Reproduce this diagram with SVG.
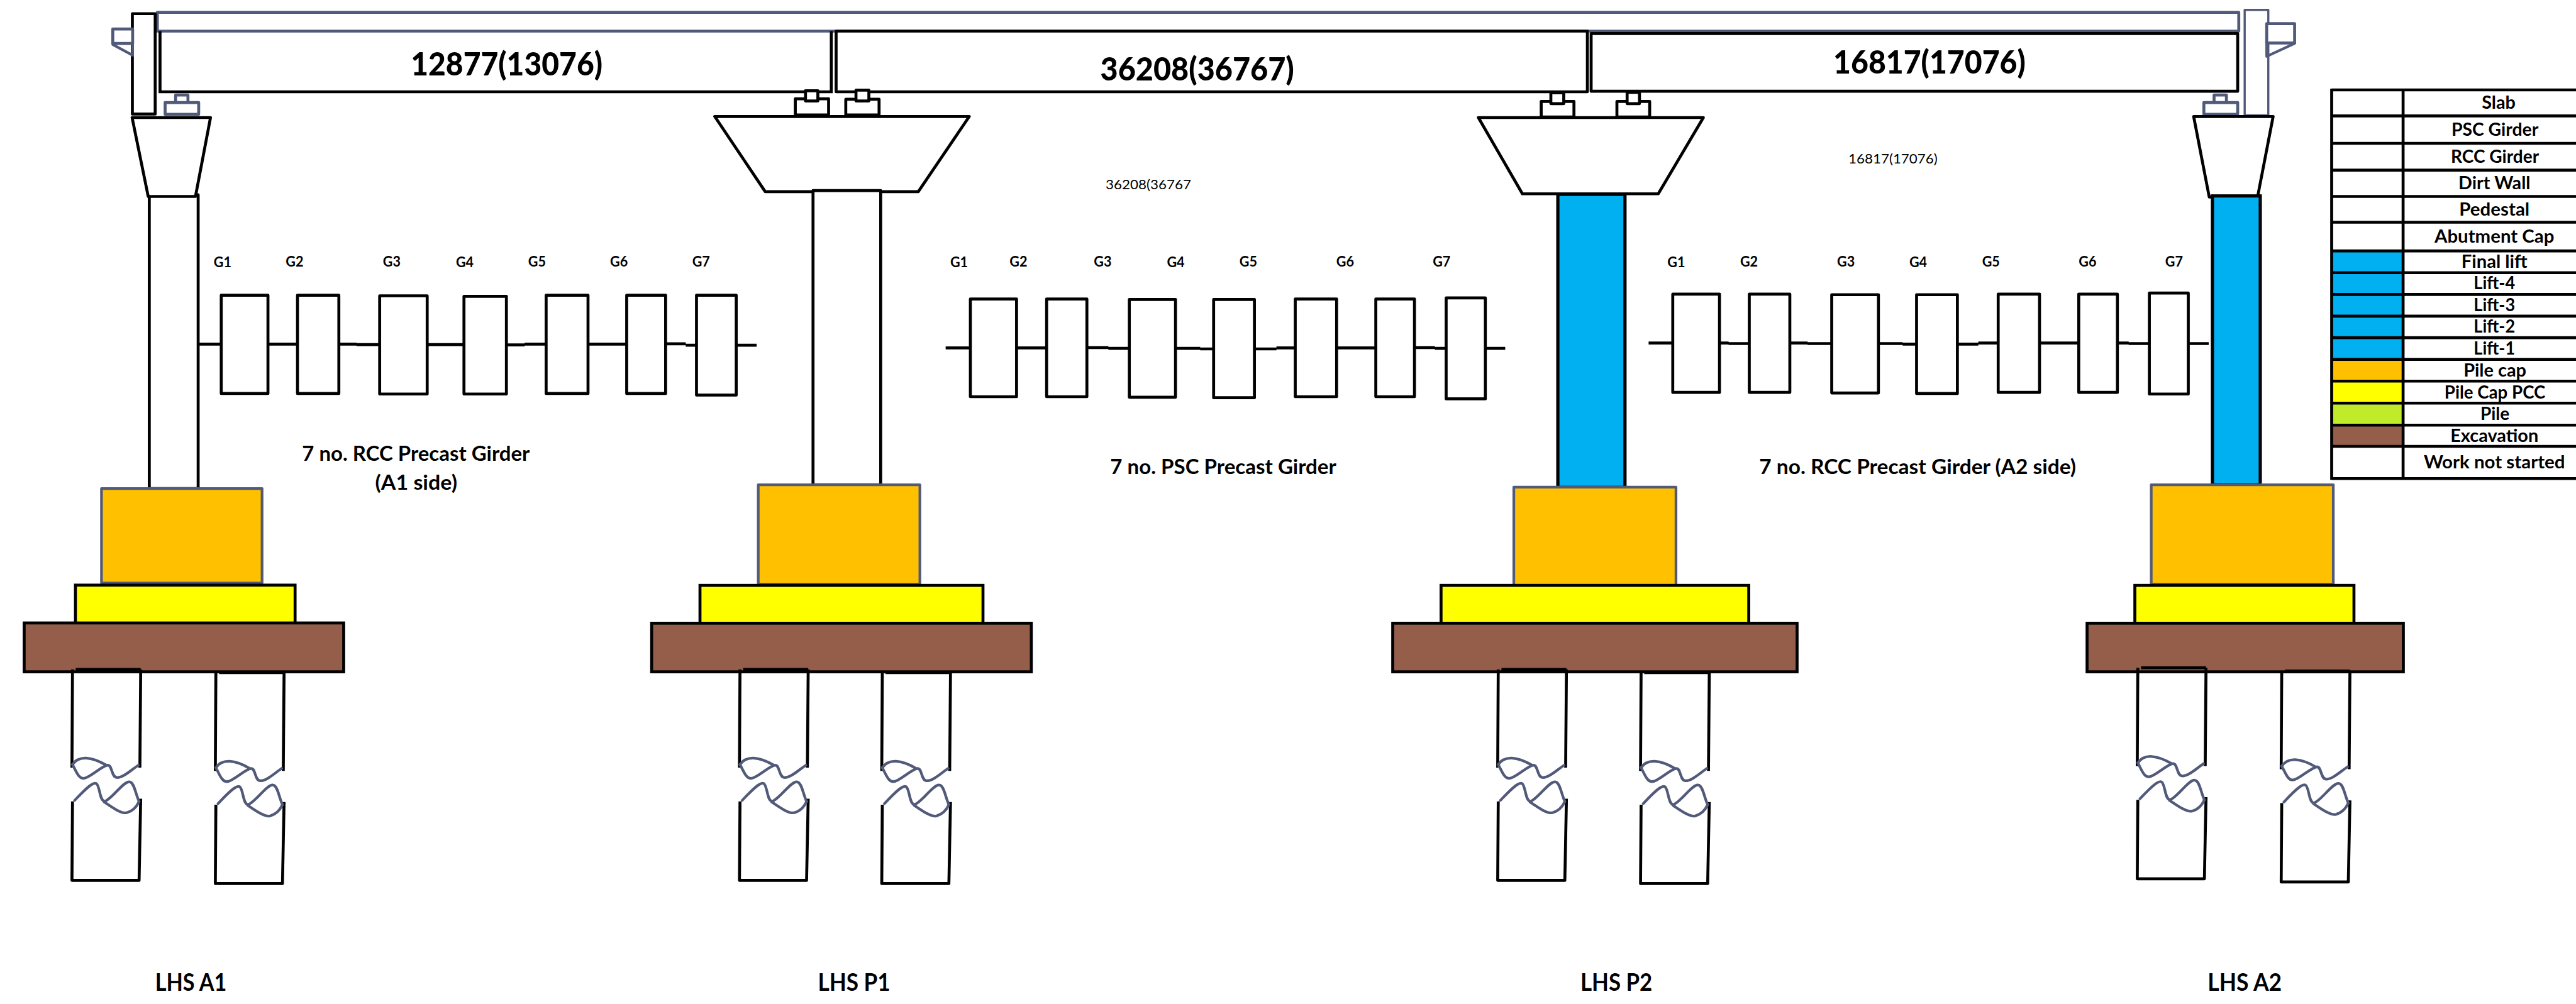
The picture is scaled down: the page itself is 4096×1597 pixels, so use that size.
<svg xmlns="http://www.w3.org/2000/svg" xmlns:xlink="http://www.w3.org/1999/xlink" width="4096" height="1597" viewBox="0 0 4096 1597">
<style>
.k{fill:#fff;stroke:#000;stroke-width:5.5;stroke-linejoin:round}
.kn{fill:none;stroke:#000;stroke-width:5.5}
.s{fill:#fff;stroke:#525a7a;stroke-width:5.5;stroke-linejoin:round}
.sn{fill:none;stroke:#525a7a;stroke-width:5;stroke-linecap:round;stroke-linejoin:round}
.blue{fill:#00b0f0;stroke:#000;stroke-width:6}
.cap{fill:#ffc000;stroke:#525a7a;stroke-width:5;stroke-linejoin:round}
.pcc{fill:#ff0;stroke:#000;stroke-width:5.5}
.exc{fill:#945e4a;stroke:#000;stroke-width:5.5}
text{font-family:Lato,"Liberation Sans",sans-serif;font-weight:700;fill:#000}
.t{font-size:60px;font-weight:900}
.sm{font-weight:400;font-size:25px}
.g{font-size:26px}
.n{font-size:37px}
.b{font-size:44px}
.l{font-size:34px;text-anchor:middle}
.tie{fill:none;stroke:#000;stroke-width:5.5}
</style>
<defs>
<g id="pile">
<path class="kn" d="M0,0 L-1,183 M127,0 L125.5,183 M6,0 L127,0"/>
<path class="kn" d="M0,246 L-1,393 L124,393 L127,241" stroke-linejoin="round"/>
<g transform="translate(0,177)">
<path class="sn" d="M0,0 C12,-17 35,-15 63,1.5"/>
<path class="sn" d="M0,0 C7.6,14.7 12,27 21,26 C32,25.5 54.5,2.5 65.5,1.5 C74.5,1 72,24.5 83,24.5 C95,24.5 110,9.8 122.6,1.5"/>
<path class="sn" d="M4,67 C18.8,51.6 36.6,32 44,35.4 C51.3,39 50,68.7 60,68.7 C72,66 95,31 106,32.4 C115,33 117,54 124,69"/>
<path class="sn" d="M59,70 C75,81 90.8,92 101,90 C110,87.5 119,80 124,69"/>
</g>
</g>
</defs>
<rect width="4096" height="1597" fill="#fff"/>
<g transform="scale(0.85387)">

<g id="slab"><rect class="s" x="293" y="23" width="3876" height="35"/></g>
<g id="span-1"><path class="kn" d="M298,58 V171 H1548 V58"/><text class="t" x="765" y="140" textLength="357" lengthAdjust="spacingAndGlyphs">12877(13076)</text></g>
<g id="span-2"><rect class="k" x="1557" y="58" width="1399" height="113"/><text class="t" x="2049" y="150" textLength="361" lengthAdjust="spacingAndGlyphs">36208(36767)</text></g>
<g id="span-3"><rect class="k" x="2963" y="62.5" width="1204" height="107.5"/><text class="t" x="3414" y="137" textLength="358" lengthAdjust="spacingAndGlyphs">16817(17076)</text></g>

<g id="abutment-A1">
<rect class="k" x="246.5" y="25.5" width="42.500" height="187"/>
<rect class="s" x="210" y="54" width="37" height="27"/>
<path class="sn" d="M210,83 L247,103 V80"/>
<rect class="s" x="327" y="177" width="23" height="16"/>
<rect class="s" x="307.5" y="191" width="62.500" height="22"/>
<rect class="k" x="278" y="363" width="91" height="547"/>
<path class="k" d="M246,219 H392 L364,366 H276 Z"/>
<rect class="cap" x="189" y="910" width="299" height="176"/>
<rect class="pcc" x="140.500" y="1090" width="409" height="71"/>
<rect class="exc" x="45" y="1160.500" width="595" height="91"/>
<use href="#pile" x="135" y="1247"/>
<use href="#pile" x="402" y="1253"/>
<text class="b" x="289" y="1846" textLength="133" lengthAdjust="spacingAndGlyphs">LHS A1</text>
</g>

<g id="pier-P1">
<path class="k" d="M1331,217 H1805 L1710,357 H1425 Z"/>
<rect class="k" x="1514" y="355" width="126" height="548"/>
<rect class="k" x="1481" y="184" width="62" height="30"/>
<rect class="k" x="1500" y="169" width="23" height="19"/>
<rect class="k" x="1575" y="185" width="62" height="29"/>
<rect class="k" x="1594" y="168" width="24" height="20"/>
<rect class="cap" x="1412" y="903" width="301" height="185"/>
<rect class="pcc" x="1303.500" y="1090.500" width="527" height="71"/>
<rect class="exc" x="1213.500" y="1161" width="707" height="90.500"/>
<use href="#pile" x="1378" y="1247"/>
<use href="#pile" x="1643" y="1253"/>
<text class="b" x="1523" y="1846" textLength="135" lengthAdjust="spacingAndGlyphs">LHS P1</text>
</g>

<g id="pier-P2">
<path class="k" d="M2753,219 H3172 L3088,361 H2835 Z"/>
<rect class="blue" x="2901" y="362" width="125" height="546"/>
<rect class="k" x="2870" y="189" width="61" height="29"/>
<rect class="k" x="2888" y="173" width="24" height="20"/>
<rect class="k" x="3011" y="189" width="61" height="29"/>
<rect class="k" x="3030" y="172" width="23" height="21"/>
<rect class="cap" x="2819" y="907.500" width="302" height="183.500"/>
<rect class="pcc" x="2683.500" y="1090.500" width="573" height="71"/>
<rect class="exc" x="2593.500" y="1161" width="753" height="90.500"/>
<use href="#pile" x="2790" y="1247"/>
<use href="#pile" x="3056" y="1253"/>
<text class="b" x="2943" y="1846" textLength="134" lengthAdjust="spacingAndGlyphs">LHS P2</text>
</g>

<g id="abutment-A2">
<path class="k" style="stroke:#525a7a;stroke-width:4" d="M4180,215 V18.500 H4224 V215 Z"/>
<rect class="s" x="4221" y="44" width="52" height="36"/>
<path class="sn" d="M4273,81 L4221,105 V80"/>
<rect class="s" x="4123" y="177" width="23" height="16"/>
<rect class="s" x="4104" y="191" width="63" height="22"/>
<path class="k" d="M4085,217 H4233 L4204,367 H4114 Z"/>
<rect class="blue" x="4120" y="365" width="89" height="538"/>
<rect class="cap" x="4006" y="903" width="339" height="185"/>
<rect class="pcc" x="3975.500" y="1090.500" width="408" height="71"/>
<rect class="exc" x="3886.500" y="1161" width="589" height="90.500"/>
<use href="#pile" x="3981" y="1244"/>
<use href="#pile" x="4249" y="1250"/>
<text class="b" x="4111" y="1846" textLength="138" lengthAdjust="spacingAndGlyphs">LHS A2</text>
</g>

<g id="connectors">
<path class="tie" d="M367,641 H412 M499,641 H554 M631,641 H664 M664,642 H707 M795,642 H864 M943,642.500 H977 M977,641 H1017 M1095,641 H1167 M1239,640.500 H1277 M1277,643 H1297 M1371,643 H1409"/>
<path class="tie" d="M1761,648 H1807 M1893,648 H1949 M2024,647.500 H2064 M2064,649 H2103 M2189,649 H2235 M2235,650 H2260 M2336,650 H2377 M2377,648 H2412 M2489,648 H2562 M2634,647.500 H2672 M2672,649 H2693 M2766,649 H2803"/>
<path class="tie" d="M3070,639 H3115 M3202,639 H3219 M3219,640 H3257 M3333,639 H3366 M3366,640 H3411 M3498,640 H3543 M3543,641 H3569 M3645,641 H3684 M3684,639 H3721 M3798,639 H3871 M3943,639 H3964 M3964,640 H4002 M4075,640 H4113"/>
</g>

<g id="girders-A1-side">
<rect class="k" x="412" y="550" width="87" height="183"/>
<rect class="k" x="554" y="550" width="77" height="183"/>
<rect class="k" x="707" y="551" width="88.500" height="183"/>
<rect class="k" x="864" y="552" width="79" height="182"/>
<rect class="k" x="1017" y="550" width="78" height="183"/>
<rect class="k" x="1167" y="550" width="72.500" height="183"/>
<rect class="k" x="1297" y="550" width="74" height="186"/>
<text class="g" x="398" y="498" textLength="33" lengthAdjust="spacingAndGlyphs">G1</text>
<text class="g" x="532" y="496" textLength="33" lengthAdjust="spacingAndGlyphs">G2</text>
<text class="g" x="713" y="496" textLength="33" lengthAdjust="spacingAndGlyphs">G3</text>
<text class="g" x="849" y="498" textLength="33" lengthAdjust="spacingAndGlyphs">G4</text>
<text class="g" x="983.500" y="496" textLength="33" lengthAdjust="spacingAndGlyphs">G5</text>
<text class="g" x="1136" y="496" textLength="33" lengthAdjust="spacingAndGlyphs">G6</text>
<text class="g" x="1289" y="496" textLength="33" lengthAdjust="spacingAndGlyphs">G7</text>
<text class="n" x="562.500" y="858" textLength="424" lengthAdjust="spacingAndGlyphs">7 no. RCC Precast Girder</text>
<text class="n" x="698.500" y="912" textLength="153" lengthAdjust="spacingAndGlyphs">(A1 side)</text>
</g>

<g id="girders-PSC">
<rect class="k" x="1807" y="557" width="86" height="182"/>
<rect class="k" x="1949" y="557" width="75" height="182"/>
<rect class="k" x="2103" y="558" width="86" height="182"/>
<rect class="k" x="2260" y="558" width="76" height="183"/>
<rect class="k" x="2412" y="557" width="77" height="182"/>
<rect class="k" x="2562" y="557" width="72" height="182"/>
<rect class="k" x="2693" y="555" width="73" height="188"/>
<text class="g" x="1769.500" y="498" textLength="33" lengthAdjust="spacingAndGlyphs">G1</text>
<text class="g" x="1880" y="496" textLength="33" lengthAdjust="spacingAndGlyphs">G2</text>
<text class="g" x="2037" y="496" textLength="33" lengthAdjust="spacingAndGlyphs">G3</text>
<text class="g" x="2173" y="498" textLength="33" lengthAdjust="spacingAndGlyphs">G4</text>
<text class="g" x="2308" y="496" textLength="33" lengthAdjust="spacingAndGlyphs">G5</text>
<text class="g" x="2488.500" y="496" textLength="33" lengthAdjust="spacingAndGlyphs">G6</text>
<text class="g" x="2668" y="496" textLength="33" lengthAdjust="spacingAndGlyphs">G7</text>
<text class="n" x="2067.500" y="883" textLength="421" lengthAdjust="spacingAndGlyphs">7 no. PSC Precast Girder</text>
<text class="sm" x="2059" y="353" textLength="159" lengthAdjust="spacingAndGlyphs">36208(36767</text>
</g>

<g id="girders-A2-side">
<rect class="k" x="3115" y="548" width="87" height="183"/>
<rect class="k" x="3257.500" y="548" width="75.500" height="183"/>
<rect class="k" x="3411" y="549" width="87" height="183"/>
<rect class="k" x="3569" y="549" width="76" height="184"/>
<rect class="k" x="3721" y="548" width="77" height="183"/>
<rect class="k" x="3871" y="548" width="72" height="183"/>
<rect class="k" x="4002.500" y="546" width="72.500" height="188"/>
<text class="g" x="3105" y="498" textLength="33" lengthAdjust="spacingAndGlyphs">G1</text>
<text class="g" x="3240.500" y="496" textLength="33" lengthAdjust="spacingAndGlyphs">G2</text>
<text class="g" x="3421" y="496" textLength="33" lengthAdjust="spacingAndGlyphs">G3</text>
<text class="g" x="3555.500" y="498" textLength="33" lengthAdjust="spacingAndGlyphs">G4</text>
<text class="g" x="3691" y="496" textLength="33" lengthAdjust="spacingAndGlyphs">G5</text>
<text class="g" x="3871" y="496" textLength="33" lengthAdjust="spacingAndGlyphs">G6</text>
<text class="g" x="4032" y="496" textLength="33" lengthAdjust="spacingAndGlyphs">G7</text>
<text class="n" x="3276" y="883" textLength="590" lengthAdjust="spacingAndGlyphs">7 no. RCC Precast Girder (A2 side)</text>
<text class="sm" x="3442" y="304" textLength="166" lengthAdjust="spacingAndGlyphs">16817(17076)</text>
</g>

<g id="legend">
<rect x="4344" y="467.500" width="131" height="40" fill="#00b0f0"/>
<rect x="4344" y="508" width="131" height="40.500" fill="#00b0f0"/>
<rect x="4344" y="548.500" width="131" height="40" fill="#00b0f0"/>
<rect x="4344" y="588.500" width="131" height="40.500" fill="#00b0f0"/>
<rect x="4344" y="629" width="131" height="40.500" fill="#00b0f0"/>
<rect x="4344" y="669.500" width="131" height="40.500" fill="#ffc000"/>
<rect x="4344" y="710" width="131" height="41" fill="#ff0"/>
<rect x="4344" y="751" width="131" height="41" fill="#bfeb2b"/>
<rect x="4344" y="792" width="131" height="39.500" fill="#945e4a"/>
<path class="kn" d="M4342,165 V894 M4475,165 V892 M4342,167.500 H4797 M4342,216 H4797 M4342,267 H4797 M4342,317 H4797 M4342,366 H4797 M4342,414 H4797 M4342,467.500 H4797 M4342,508 H4797 M4342,548.500 H4797 M4342,589 H4797 M4342,629 H4797 M4342,669.500 H4797 M4342,710 H4797 M4342,751 H4797 M4342,792 H4797 M4342,831.500 H4797 M4342,891.500 H4797"/>
<text class="l" x="4653" y="203" textLength="63" lengthAdjust="spacingAndGlyphs">Slab</text>
<text class="l" x="4646" y="253" textLength="162" lengthAdjust="spacingAndGlyphs">PSC Girder</text>
<text class="l" x="4646" y="303" textLength="164" lengthAdjust="spacingAndGlyphs">RCC Girder</text>
<text class="l" x="4645" y="353" textLength="134" lengthAdjust="spacingAndGlyphs">Dirt Wall</text>
<text class="l" x="4645" y="402" textLength="131" lengthAdjust="spacingAndGlyphs">Pedestal</text>
<text class="l" x="4645" y="451.500" textLength="223" lengthAdjust="spacingAndGlyphs">Abutment Cap</text>
<text class="l" x="4645" y="499" textLength="123" lengthAdjust="spacingAndGlyphs">Final lift</text>
<text class="l" x="4645" y="539" textLength="77" lengthAdjust="spacingAndGlyphs">Lift-4</text>
<text class="l" x="4645" y="580" textLength="77" lengthAdjust="spacingAndGlyphs">Lift-3</text>
<text class="l" x="4645" y="620" textLength="77" lengthAdjust="spacingAndGlyphs">Lift-2</text>
<text class="l" x="4645" y="661" textLength="77" lengthAdjust="spacingAndGlyphs">Lift-1</text>
<text class="l" x="4646" y="701.500" textLength="117" lengthAdjust="spacingAndGlyphs">Pile cap</text>
<text class="l" x="4646" y="742" textLength="188" lengthAdjust="spacingAndGlyphs">Pile Cap PCC</text>
<text class="l" x="4646" y="782.500" textLength="54" lengthAdjust="spacingAndGlyphs">Pile</text>
<text class="l" x="4645" y="823" textLength="164" lengthAdjust="spacingAndGlyphs">Excavation</text>
<text class="l" x="4645" y="872" textLength="263" lengthAdjust="spacingAndGlyphs">Work not started</text>
</g>
</g>
</svg>
